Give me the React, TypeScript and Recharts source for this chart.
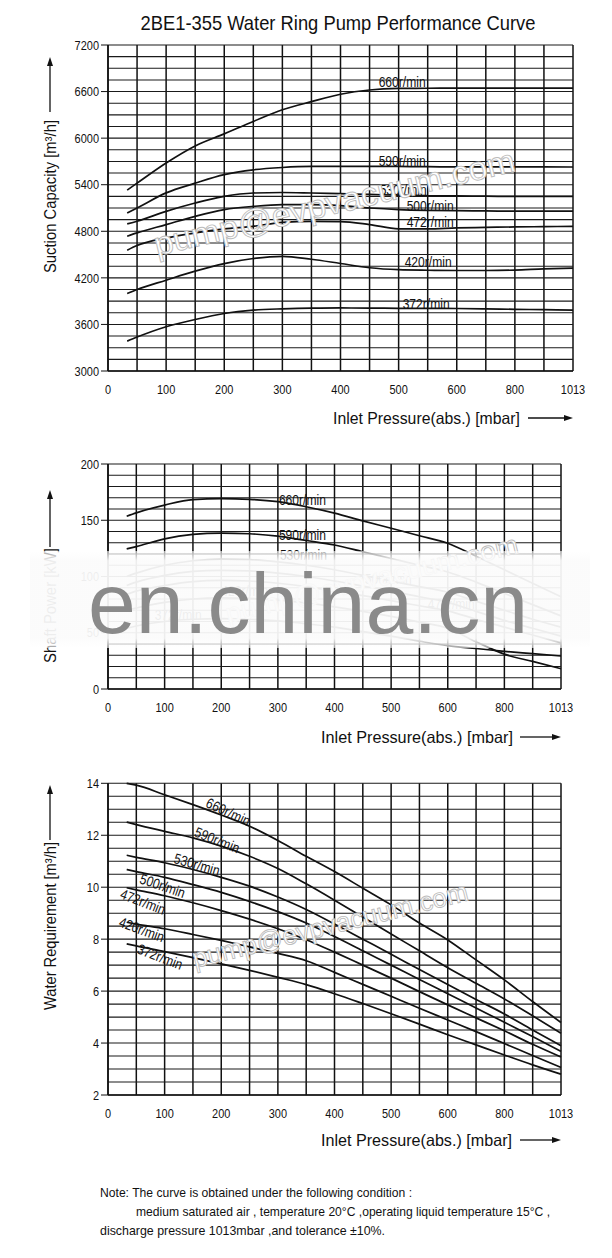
import React from "react";
import { LineChart, Line, XAxis, YAxis, CartesianGrid, LabelList } from "recharts";

// inlet pressure points (mbar)
const pressures = [33, 50, 100, 150, 200, 250, 300, 350, 400, 450, 500, 550, 600, 700, 800, 906, 1013];
const pressureTickLabels = ["0", "100", "200", "300", "400", "500", "600", "800", "1013"];
const speeds = ["660", "590", "530", "500", "472", "420", "372"];

// suction capacity [m3/h]
const capacity660 = [5330, 5420, 5680, 5900, 6055, 6215, 6365, 6470, 6565, 6620, 6640, 6643, 6645, 6645, 6645, 6645, 6645];
const capacity590 = [5035, 5100, 5295, 5420, 5530, 5592, 5622, 5635, 5636, 5636, 5635, 5632, 5630, 5630, 5630, 5630, 5628];
const capacity530 = [4895, 4930, 5057, 5164, 5250, 5293, 5300, 5293, 5284, 5275, 5265, 5258, 5255, 5252, 5250, 5250, 5250];
const capacity500 = [4736, 4779, 4886, 4993, 5079, 5121, 5143, 5143, 5130, 5100, 5080, 5070, 5065, 5062, 5060, 5060, 5060];
const capacity472 = [4556, 4616, 4714, 4779, 4830, 4864, 4916, 4928, 4925, 4886, 4832, 4830, 4843, 4850, 4856, 4860, 4864];
const capacity420 = [3998, 4050, 4170, 4286, 4384, 4449, 4478, 4440, 4385, 4330, 4305, 4298, 4295, 4295, 4300, 4315, 4325];
const capacity372 = [3385, 3437, 3570, 3664, 3741, 3784, 3801, 3810, 3812, 3810, 3808, 3806, 3805, 3800, 3795, 3790, 3785];

// shaft power [kW]
const power660 = [153.6, 156.6, 163.5, 168.4, 169.2, 168.6, 166.5, 162, 156.3, 149.5, 142.9, 136.2, 129.6, 118, 106, 94, 82];
const power590 = [124.5, 126.6, 133.5, 137.4, 138.6, 138, 135.9, 132, 128, 122, 116, 110, 104, 95, 85, 75, 65];
const power530 = [100, 103, 110, 114, 115.5, 115, 113, 110, 106, 101, 96, 91, 86, 78, 70, 62, 55];
const power500 = [92, 95, 101, 104.5, 105.5, 105, 103, 100, 96, 91.5, 87, 82, 77, 69, 61, 54, 47];
const power472 = [84, 87, 92, 95.5, 96.5, 96, 94, 91, 87, 83, 78.5, 74, 69.5, 62, 55, 48, 41];
const power420 = [70, 72, 77, 80, 81, 80.5, 79, 76.5, 73, 69, 64.5, 59.5, 54, 42, 31, 24.5, 18];
const power372 = [54, 56, 60, 62, 62.5, 62, 60.5, 58, 55, 51, 47, 42.5, 38.5, 36, 33.5, 31.4, 29.3];

// water requirement [m3/h]
const water660 = [14.0, 13.93, 13.56, 13.18, 12.78, 12.35, 11.8, 11.19, 10.6, 9.96, 9.32, 8.62, 7.97, 7.2, 6.43, 5.6, 4.79];
const water590 = [12.51, 12.41, 12.15, 11.9, 11.58, 11.19, 10.72, 10.13, 9.5, 8.85, 8.2, 7.55, 6.9, 6.3, 5.7, 5.05, 4.38];
const water530 = [11.23, 11.15, 10.94, 10.68, 10.38, 10.04, 9.62, 9.14, 8.58, 8.0, 7.42, 6.83, 6.25, 5.68, 5.12, 4.5, 3.9];
const water500 = [10.68, 10.6, 10.38, 10.1, 9.8, 9.45, 9.06, 8.62, 8.1, 7.55, 7.0, 6.45, 5.9, 5.35, 4.8, 4.25, 3.68];
const water472 = [9.98, 9.9, 9.67, 9.4, 9.1, 8.77, 8.4, 7.98, 7.5, 7.0, 6.5, 5.98, 5.47, 4.97, 4.47, 3.95, 3.46];
const water420 = [8.65, 8.58, 8.4, 8.18, 7.95, 7.7, 7.45, 7.17, 6.72, 6.26, 5.8, 5.34, 4.89, 4.44, 3.98, 3.52, 3.06];
const water372 = [7.82, 7.74, 7.52, 7.29, 7.05, 6.8, 6.53, 6.25, 5.9, 5.52, 5.13, 4.73, 4.32, 3.93, 3.54, 3.16, 2.8];

const capacityTicks = [3000, 3600, 4200, 4800, 5400, 6000, 6600, 7200];
const powerTicks = [0, 50, 100, 150, 200];
const waterTicks = [2, 4, 6, 8, 10, 12, 14];

const FONT = "'Liberation Sans Narrow', 'Arial Narrow', 'Liberation Sans', Arial, sans-serif";
const WIDE = "'Liberation Sans', Arial, sans-serif";
const INK = "#111";

// the printed axis is not linear in mbar: 50 mbar steps up to 600, then 100, then ~106.5
const axisPos = (p: number) =>
  p <= 600 ? p / 50 : p <= 800 ? 12 + (p - 600) / 100 : 14 + (p - 800) / 106.5;

const range = (a: number, b: number, step: number) => {
  const out: number[] = [];
  for (let v = a; v <= b + 1e-9; v += step) out.push(+v.toFixed(3));
  return out;
};

const buildRows = (series: number[][]) =>
  pressures.map((p, i) => {
    const row: Record<string, number> = { pos: axisPos(p) };
    speeds.forEach((s, j) => (row[`r${s}`] = series[j][i]));
    return row;
  });

const capacityRows = buildRows([capacity660, capacity590, capacity530, capacity500, capacity472, capacity420, capacity372]);
const powerRows = buildRows([power660, power590, power530, power500, power472, power420, power372]);
const waterRows = buildRows([water660, water590, water530, water500, water472, water420, water372]);

type LabelSpec = { at: number; dx: number; dy: number; angle?: number };

const makeLabel = (text: string, spec: LabelSpec) => (props: any) => {
  if (props.index !== spec.at) return null;
  const x = Number(props.x) + spec.dx;
  const y = Number(props.y) + spec.dy;
  if (spec.angle) {
    return (
      <text x={x} y={y} textAnchor="middle" dominantBaseline="central" fontSize={14.5}
        fontFamily={FONT} fill={INK} textLength={47} lengthAdjust="spacingAndGlyphs"
        transform={`rotate(${spec.angle} ${x} ${y})`}>
        {text}
      </text>
    );
  }
  return (
    <text x={x} y={y} fontSize={14.5} fontFamily={FONT} fill={INK} textLength={47} lengthAdjust="spacingAndGlyphs">
      {text}
    </text>
  );
};

// narrow-looking tick text: the reference uses a condensed face
const NarrowTick = (anchor: "middle" | "end", fmt?: (v: number) => string) => (props: any) => {
  const { x, y, payload } = props;
  const label = fmt ? fmt(payload.value) : String(payload.value);
  return (
    <text x={x} y={y} dy={anchor === "end" ? "0.36em" : "0.71em"} textAnchor={anchor} fontSize={13}
      fontFamily={FONT} fill={INK} textLength={label.length * 6.1} lengthAdjust="spacingAndGlyphs">
      {label}
    </text>
  );
};

const capacityLabels: LabelSpec[] = [
  { at: 10, dx: -20, dy: -1 },
  { at: 10, dx: -20, dy: 0 },
  { at: 10, dx: -19, dy: 0 },
  { at: 10, dx: 8, dy: 1 },
  { at: 10, dx: 8, dy: -2 },
  { at: 10, dx: 6, dy: -3 },
  { at: 10, dx: 4, dy: 1 },
];
// the lower labels sit under the watermark band in the source
const powerLabels: LabelSpec[] = [
  { at: 6, dx: 1, dy: 3 },
  { at: 6, dx: 1, dy: 4 },
  { at: 6, dx: 2, dy: -2 },
  { at: 9, dx: 2, dy: -2 },
  { at: 12, dx: -20, dy: -2 },
  { at: 4, dx: 0, dy: -2 },
  { at: 2, dx: -10, dy: -2 },
];
const waterLabels: LabelSpec[] = [
  { at: 4, dx: 7, dy: -3, angle: 25 },
  { at: 4, dx: -4, dy: -6, angle: 22 },
  { at: 3, dx: 4, dy: -5, angle: 16 },
  { at: 2, dx: -2, dy: 8.5, angle: 19 },
  { at: 1, dx: 6.7, dy: 12, angle: 21 },
  { at: 1, dx: 5.4, dy: 5.5, angle: 20 },
  { at: 2, dx: -4.6, dy: 5.2, angle: 21 },
];

const xTicks = range(0, 16, 2);
const xGrid = range(0, 16, 1);

type PanelProps = {
  top: number;
  height: number;
  plotTop: number;
  right: number;
  rows: Record<string, number>[];
  domain: [number, number];
  yTicks: number[];
  gridY: number[];
  labels: LabelSpec[];
};

function Panel({ top, height, plotTop, right, rows, domain, yTicks, gridY, labels }: PanelProps) {
  return (
    <div style={{ position: "absolute", left: 0, top }}>
      <LineChart width={612} height={height} data={rows}
        margin={{ top: plotTop, right, bottom: 5, left: 48 }}>
        <CartesianGrid horizontal={false} verticalValues={xGrid} stroke="#111" strokeWidth={1.5} />
        <CartesianGrid vertical={false} horizontalValues={gridY} stroke="#1a1a1a" strokeWidth={1.1} />
        <XAxis type="number" dataKey="pos" domain={[0, 16]} ticks={xTicks} interval={0}
          tick={NarrowTick("middle", (v) => pressureTickLabels[Math.round(v / 2)])}
          tickLine={false} tickSize={6} tickMargin={8} height={30}
          axisLine={{ stroke: INK, strokeWidth: 1.5 }} />
        <YAxis type="number" domain={domain} ticks={yTicks} interval={0} width={60}
          tickSize={7} tickMargin={2} axisLine={{ stroke: INK, strokeWidth: 1.5 }}
          tickLine={{ stroke: INK }} tick={NarrowTick("end")} />
        {speeds.map((s, j) => (
          <Line key={s} type="monotone" dataKey={`r${s}`} stroke={INK} strokeWidth={1.7}
            dot={false} isAnimationActive={false}>
            <LabelList dataKey={`r${s}`} content={makeLabel(`${s}r/min`, labels[j])} />
          </Line>
        ))}
      </LineChart>
    </div>
  );
}

const Arrow = ({ x1, y1, x2, y2 }: { x1: number; y1: number; x2: number; y2: number }) => {
  const len = Math.hypot(x2 - x1, y2 - y1);
  const ux = (x2 - x1) / len;
  const uy = (y2 - y1) / len;
  const bx = x2 - ux * 9;
  const by = y2 - uy * 9;
  return (
    <g>
      <line x1={x1} y1={y1} x2={bx} y2={by} stroke={INK} strokeWidth={1.3} />
      <polygon points={`${x2},${y2} ${bx - uy * 3},${by + ux * 3} ${bx + uy * 3},${by - ux * 3}`} fill={INK} />
    </g>
  );
};

const XTitle = ({ x, y, len, ax1, ax2 }: { x: number; y: number; len: number; ax1: number; ax2: number }) => (
  <g>
    <text x={x} y={y + 5.5} fontSize={16.5} fontFamily={FONT} fill={INK} textLength={len} lengthAdjust="spacingAndGlyphs">
      Inlet Pressure(abs.)  [mbar]
    </text>
    <Arrow x1={ax1} y1={y} x2={ax2} y2={y} />
  </g>
);

const YTitle = ({ text, cy, len, a1, a2 }: { text: string; cy: number; len: number; a1: number; a2: number }) => (
  <g>
    <text x={50} y={cy} textAnchor="middle" dominantBaseline="central" fontSize={16.5} fontFamily={FONT}
      fill={INK} textLength={len} lengthAdjust="spacingAndGlyphs" transform={`rotate(-90 50 ${cy})`}>
      {text}
    </text>
    <Arrow x1={50} y1={a1} x2={50} y2={a2} />
  </g>
);

const Watermark = ({ x, y, len, size, angle }: { x: number; y: number; len: number; size: number; angle: number }) => (
  <text x={x} y={y} fontSize={size} fontFamily={WIDE} fill="#fff" stroke="#bcbcbc" strokeWidth={0.9}
    textLength={len} lengthAdjust="spacingAndGlyphs" transform={`rotate(${-angle} ${x} ${y})`}>
    pump@evpvacuum.com
  </text>
);

export default function App() {
  return (
    <div style={{ position: "absolute", left: 0, top: 0, width: 612, height: 1258, background: "#fff", overflow: "hidden" }}>
      <Panel top={0} height={406} plotTop={45} right={39} rows={capacityRows} domain={[3000, 7200]}
        yTicks={capacityTicks} gridY={range(3000, 7200, 150)} labels={capacityLabels} />
      <Panel top={420} height={304} plotTop={44} right={51} rows={powerRows} domain={[0, 200]}
        yTicks={powerTicks} gridY={range(0, 200, 10)} labels={powerLabels} />
      <Panel top={740} height={390} plotTop={43.3} right={51} rows={waterRows} domain={[2, 14]}
        yTicks={waterTicks} gridY={range(2, 14, 0.5)} labels={waterLabels} />

      <svg width={612} height={1258} style={{ position: "absolute", left: 0, top: 0, pointerEvents: "none" }}>
        <text x={338} y={29.5} textAnchor="middle" fontSize={21} fontFamily={FONT} fill={INK}
          textLength={395} lengthAdjust="spacingAndGlyphs">
          2BE1-355 Water Ring Pump Performance Curve
        </text>

        <YTitle text="Suction Capacity  [m³/h]" cy={196.5} len={153} a1={112} a2={57} />
        <YTitle text="Shaft Power [kW]" cy={605.5} len={115} a1={547} a2={490} />
        <YTitle text="Water Requirement [m³/h]" cy={926} len={168} a1={840} a2={785} />

        <XTitle x={333} y={418} len={187} ax1={528} ax2={573} />
        <XTitle x={321} y={737} len={192} ax1={520} ax2={561} />
        <XTitle x={321} y={1140} len={191} ax1={520} ax2={561} />

        <Watermark x={157} y={256} len={370} size={33} angle={13.3} />
        <Watermark x={228} y={623} len={300} size={27} angle={13.5} />
        <Watermark x={195} y={968} len={283} size={27} angle={13.9} />

        <defs>
          <linearGradient id="band" x1="0" y1="0" x2="0" y2="1">
            <stop offset="0" stopColor="#fff" stopOpacity={0.6} />
            <stop offset="0.1" stopColor="#fbfbfb" stopOpacity={0.94} />
            <stop offset="0.9" stopColor="#fbfbfb" stopOpacity={0.94} />
            <stop offset="1" stopColor="#fff" stopOpacity={0.6} />
          </linearGradient>
        </defs>
        <rect x={30} y={551} width={560} height={97} fill="url(#band)" />
        <text x={88} y={633} fontSize={86} fontFamily={WIDE} fill="#8a8a8a" textLength={440}
          lengthAdjust="spacingAndGlyphs">
          en.china.cn
        </text>

        <text x={100} y={1197} fontSize={13} fontFamily={FONT} fill={INK} textLength={312} lengthAdjust="spacingAndGlyphs">
          Note: The curve is obtained under the following condition :
        </text>
        <text x={136} y={1216} fontSize={13} fontFamily={FONT} fill={INK} textLength={414} lengthAdjust="spacingAndGlyphs">
          medium saturated air , temperature 20°C ,operating liquid temperature 15°C ,
        </text>
        <text x={100} y={1235} fontSize={13} fontFamily={FONT} fill={INK} textLength={285} lengthAdjust="spacingAndGlyphs">
          discharge pressure 1013mbar ,and tolerance ±10%.
        </text>
      </svg>
    </div>
  );
}
